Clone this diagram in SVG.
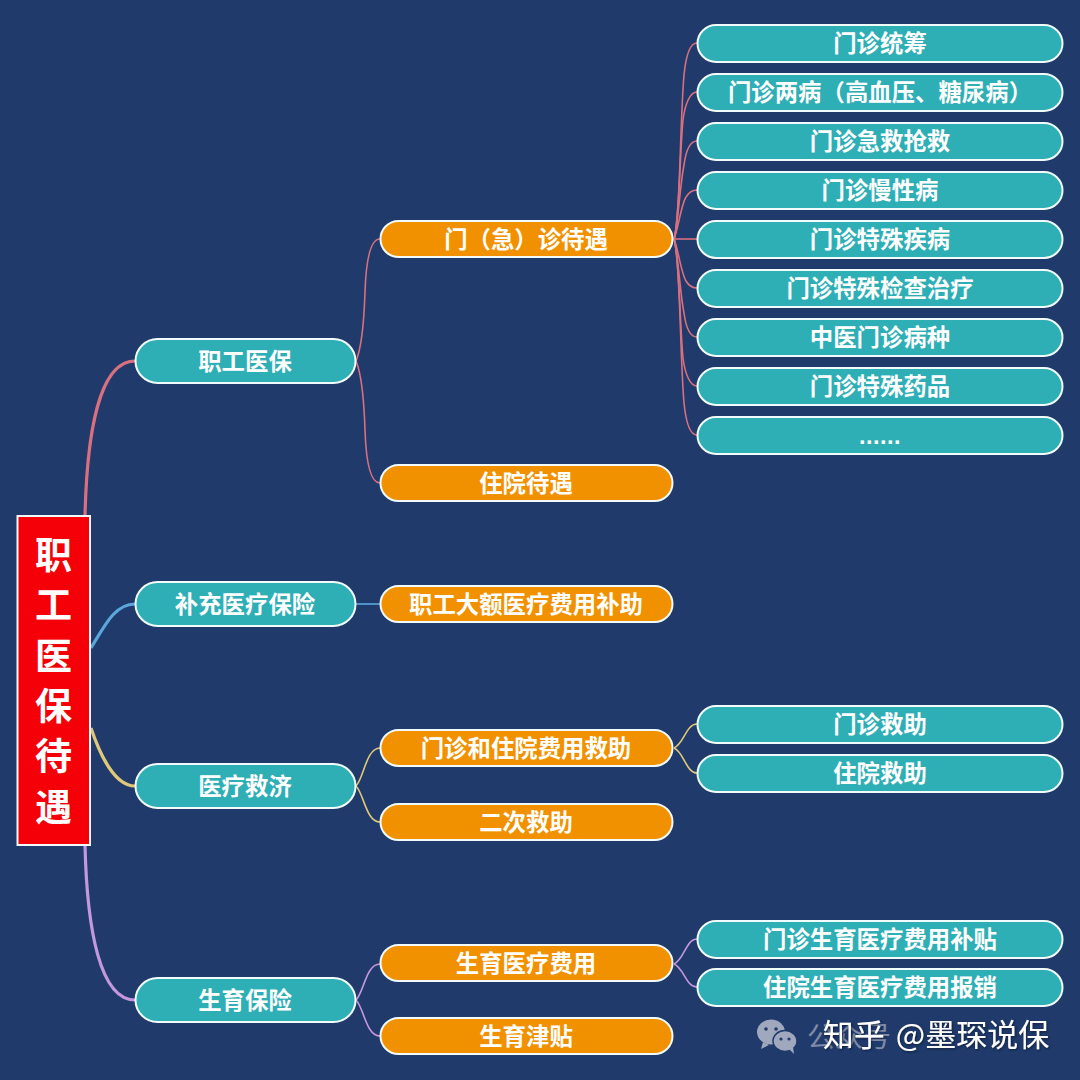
<svg xmlns="http://www.w3.org/2000/svg" width="1080" height="1080" viewBox="0 0 1080 1080">
<style>
text{font-family:"Noto Sans CJK SC","Noto Sans",sans-serif;font-weight:700;fill:#fff;text-anchor:middle}
.t{font-size:23.4px}
.r{font-size:37px}
.n rect{stroke:#f2fbfb;stroke-width:2}
.teal rect{fill:#2eaeb5}
.org rect{fill:#f29100}
.c path{fill:none}
.red{stroke:#d9707f}.blue{stroke:#5ba6dc}.yel{stroke:#e0c878}.pur{stroke:#c597dc}
.w1{stroke-width:1.6}.w3{stroke-width:3.200}
</style>
<defs><filter id="sh" x="-5%" y="-20%" width="110%" height="140%"><feDropShadow dx="1" dy="1" stdDeviation="1" flood-color="#0a1430" flood-opacity="0.800"/></filter></defs>
<rect width="1080" height="1080" fill="#1f3a6b"/>
<g id="connectors" class="c">
<path class="red w3" d="M85 516C87 430 100 361 135 361"/>
<path class="blue w3" d="M91 648C105 625 115 604 135 604"/>
<path class="yel w3" d="M91 728C100 755 115 786 135 786"/>
<path class="pur w3" d="M85 845C87 930 100 1000 135 1000"/>
<path class="red w1" d="M356 361C362 347 364 322 365 292C366 262 370 239 380 239"/>
<path class="red w1" d="M356 361C362 375 364 400 365 430C366 460 370 483 380 483"/>
<path class="blue w1" d="M356 604H380"/>
<path class="yel w1" d="M356 786C364 778 366 748 380 748"/>
<path class="yel w1" d="M356 786C364 794 366 822 380 822"/>
<path class="pur w1" d="M356 1000C364 992 366 964 380 964"/>
<path class="pur w1" d="M356 1000C364 1008 366 1036 380 1036"/>
<path class="red w1" d="M674 239C680 225 680 120 684 75C686 55 690 43 697 43"/>
<path class="red w1" d="M674 239C679 225 680 150 683 120C685 104 690 92 697 92"/>
<path class="red w1" d="M674 239C678 225 680 185 684 165C686 150 690 141 697 141"/>
<path class="red w1" d="M674 239C678 230 681 205 686 197C689 192 693 190 697 190"/>
<path class="red w1" d="M674 239H697"/>
<path class="red w1" d="M674 239C678 248 681 273 686 281C689 286 693 288 697 288"/>
<path class="red w1" d="M674 239C678 253 680 293 684 313C686 328 690 337 697 337"/>
<path class="red w1" d="M674 239C679 253 680 328 683 358C685 374 690 386 697 386"/>
<path class="red w1" d="M674 239C680 253 680 358 684 403C686 423 690 435 697 435"/>
<path class="yel w1" d="M674 748C684 744 686 724 697 724"/>
<path class="yel w1" d="M674 748C684 752 686 773 697 773"/>
<path class="pur w1" d="M674 964C684 960 686 939 697 939"/>
<path class="pur w1" d="M674 964C684 968 686 987 697 987"/>
</g>
<g id="root" class="n"><rect x="17.500" y="516" width="72.500" height="329" fill="#f50008"/>
<text class="r" x="53.500" y="569">职</text><text class="r" x="53.500" y="619">工</text><text class="r" x="53.500" y="670">医</text><text class="r" x="53.500" y="720">保</text><text class="r" x="53.500" y="770">待</text><text class="r" x="53.500" y="821">遇</text></g>
<g id="a1" class="n teal"><rect x="135.500" y="339" width="220" height="44" rx="22"/><text class="t" x="245" y="370">职工医保</text></g>
<g id="a2" class="n teal"><rect x="135.500" y="582" width="220" height="44" rx="22"/><text class="t" x="245" y="613">补充医疗保险</text></g>
<g id="a3" class="n teal"><rect x="135.500" y="764" width="220" height="44" rx="22"/><text class="t" x="245" y="795">医疗救济</text></g>
<g id="a4" class="n teal"><rect x="135.500" y="978" width="220" height="44" rx="22"/><text class="t" x="245" y="1009">生育保险</text></g>
<g id="b1" class="n org"><rect x="380.500" y="221" width="292" height="36" rx="18"/><text class="t" x="526" y="248">门（急）诊待遇</text></g>
<g id="b2" class="n org"><rect x="380.500" y="465" width="292" height="36" rx="18"/><text class="t" x="526" y="492">住院待遇</text></g>
<g id="b3" class="n org"><rect x="380.500" y="586" width="292" height="36" rx="18"/><text class="t" x="526" y="613">职工大额医疗费用补助</text></g>
<g id="b4" class="n org"><rect x="380.500" y="730" width="292" height="36" rx="18"/><text class="t" x="526" y="757">门诊和住院费用救助</text></g>
<g id="b5" class="n org"><rect x="380.500" y="804" width="292" height="36" rx="18"/><text class="t" x="526" y="831">二次救助</text></g>
<g id="b6" class="n org"><rect x="380.500" y="945" width="292" height="36" rx="18"/><text class="t" x="526" y="972">生育医疗费用</text></g>
<g id="b7" class="n org"><rect x="380.500" y="1018" width="292" height="36" rx="18"/><text class="t" x="526" y="1045">生育津贴</text></g>
<g id="c1" class="n teal"><rect x="697.500" y="25" width="365" height="37" rx="18.500"/><text class="t" x="880" y="52">门诊统筹</text></g>
<g id="c2" class="n teal"><rect x="697.500" y="74" width="365" height="37" rx="18.500"/><text class="t" x="880" y="101">门诊两病（高血压、糖尿病）</text></g>
<g id="c3" class="n teal"><rect x="697.500" y="123" width="365" height="37" rx="18.500"/><text class="t" x="880" y="150">门诊急救抢救</text></g>
<g id="c4" class="n teal"><rect x="697.500" y="172" width="365" height="37" rx="18.500"/><text class="t" x="880" y="199">门诊慢性病</text></g>
<g id="c5" class="n teal"><rect x="697.500" y="221" width="365" height="37" rx="18.500"/><text class="t" x="880" y="248">门诊特殊疾病</text></g>
<g id="c6" class="n teal"><rect x="697.500" y="270" width="365" height="37" rx="18.500"/><text class="t" x="880" y="297">门诊特殊检查治疗</text></g>
<g id="c7" class="n teal"><rect x="697.500" y="319" width="365" height="37" rx="18.500"/><text class="t" x="880" y="346">中医门诊病种</text></g>
<g id="c8" class="n teal"><rect x="697.500" y="368" width="365" height="37" rx="18.500"/><text class="t" x="880" y="395">门诊特殊药品</text></g>
<g id="c9" class="n teal"><rect x="697.500" y="417" width="365" height="37" rx="18.500"/><text class="t" x="880" y="444" style="font-family:'Liberation Sans',sans-serif;letter-spacing:0.500px">......</text></g>
<g id="d1" class="n teal"><rect x="697.500" y="706" width="365" height="37" rx="18.500"/><text class="t" x="880" y="733">门诊救助</text></g>
<g id="d2" class="n teal"><rect x="697.500" y="755" width="365" height="37" rx="18.500"/><text class="t" x="880" y="782">住院救助</text></g>
<g id="d3" class="n teal"><rect x="697.500" y="921" width="365" height="37" rx="18.500"/><text class="t" x="880" y="948">门诊生育医疗费用补贴</text></g>
<g id="d4" class="n teal"><rect x="697.500" y="969" width="365" height="37" rx="18.500"/><text class="t" x="880" y="996">住院生育医疗费用报销</text></g>
<g id="watermark">
<g fill="#a0a8bd"><ellipse cx="771" cy="1032" rx="14" ry="12.500"/><path d="M763 1042l-2 7 8-4z"/></g>
<g fill="#a0a8bd" stroke="#1f3a6b" stroke-width="1.500"><ellipse cx="785" cy="1041" rx="12" ry="10.500"/></g>
<path d="M789 1049l5 5-1-7z" fill="#a0a8bd"/>
<g fill="#1f3a6b"><circle cx="766" cy="1029" r="1.800"/><circle cx="776" cy="1029" r="1.800"/><circle cx="781" cy="1039" r="1.600"/><circle cx="789" cy="1039" r="1.600"/></g>
<text x="849" y="1047" style="font-size:28px;font-weight:400;fill:#7f8ba8">公众号</text>
<text x="936" y="1046" filter="url(#sh)" style="font-size:31px;font-weight:400;word-spacing:4px">知乎 @墨琛说保</text>
</g>
</svg>
